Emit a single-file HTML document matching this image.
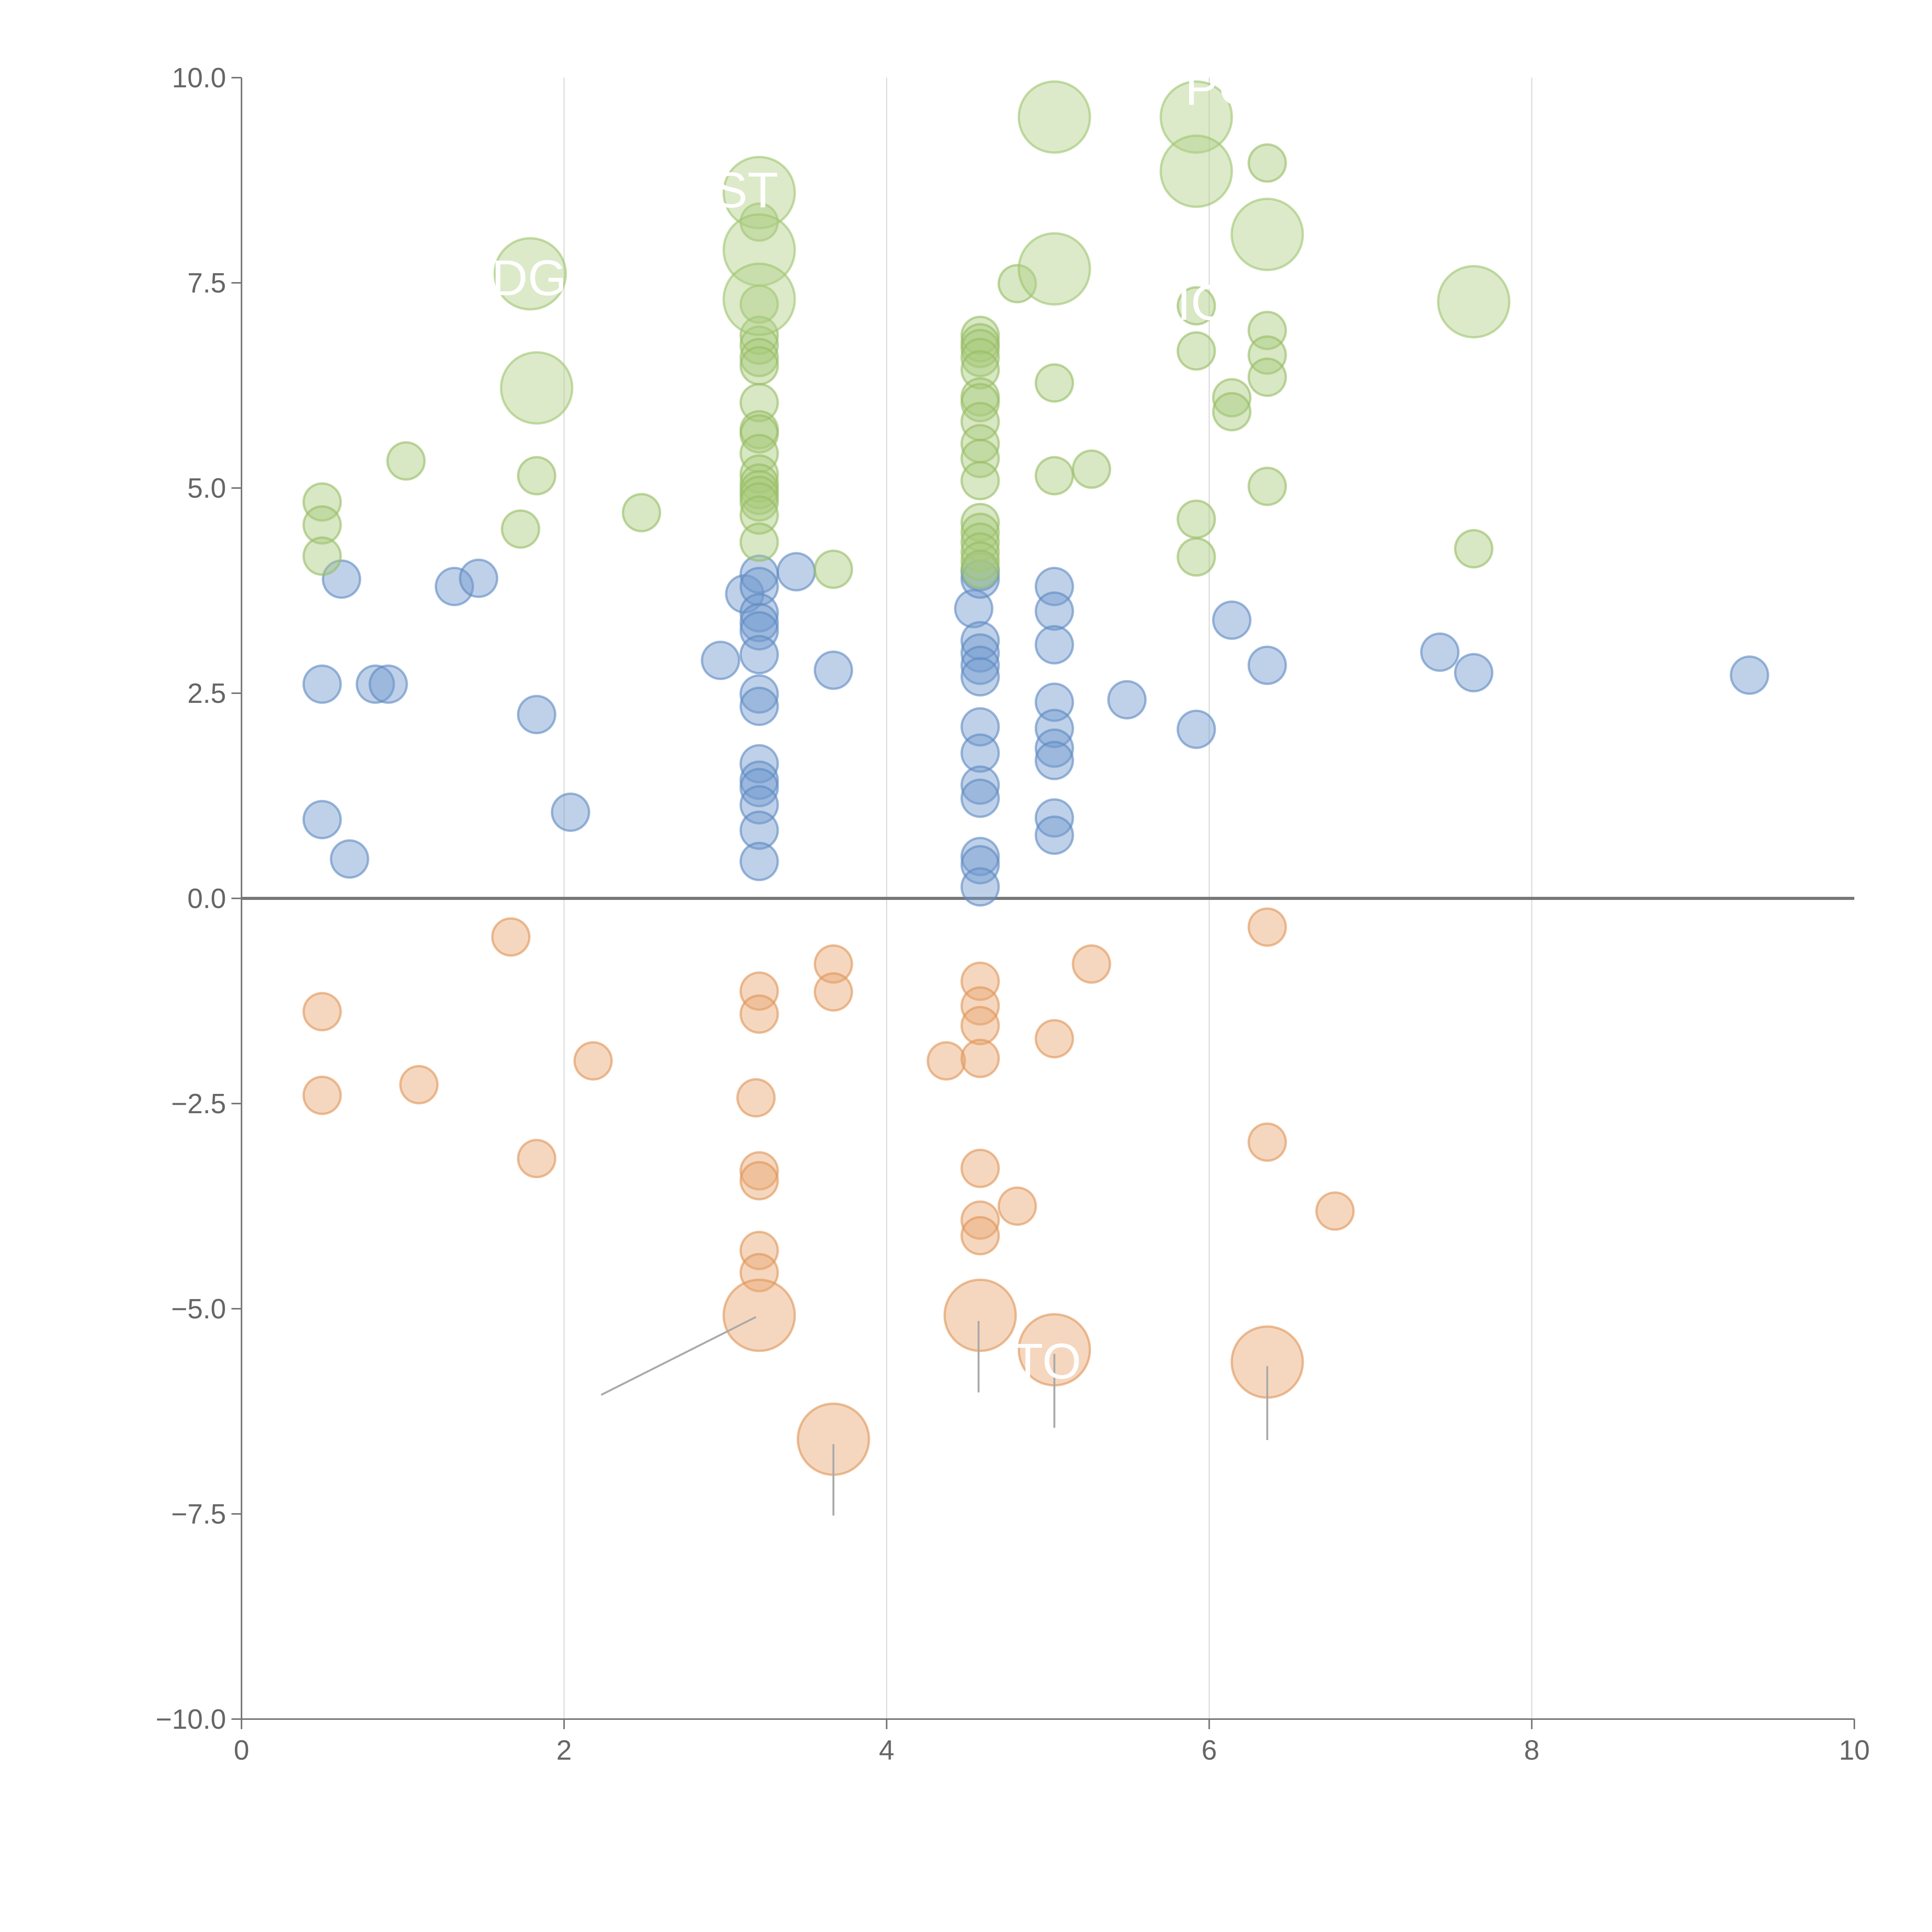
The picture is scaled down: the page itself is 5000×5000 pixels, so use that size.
<!DOCTYPE html>
<html><head><meta charset="utf-8"><style>
html,body{margin:0;padding:0;background:#fff;width:5000px;height:5000px;overflow:hidden}
svg{display:block}
text{font-family:"Liberation Sans",sans-serif}
</style></head><body>
<svg id="chart" width="5000" height="5000" viewBox="0 0 5000 5000" xmlns="http://www.w3.org/2000/svg">
<g id="grid"></g>
<g id="axes"></g>
<g id="marks"></g>
<g id="labels"></g>
</svg>
<script>
const xTicks=[0,2,4,6,8,10];
const yTicks=[10,7.5,5,2.5,0,-2.5,-5,-7.5,-10];
const yTickLabels=["10.0","7.5","5.0","2.5","0.0","\u22122.5","\u22125.0","\u22127.5","\u221210.0"];
const blueX=[0.5,0.62,1.32,1.47,0.83,0.91,1.83,0.5,0.67,2.04,2.97,3.12,3.21,3.21,3.21,3.21,3.21,3.21,3.21,3.21,3.21,3.21,3.21,3.21,3.21,3.21,3.44,3.67,4.54,4.58,4.58,4.58,4.58,4.58,4.58,4.58,4.58,4.58,4.58,4.58,4.58,4.58,5.04,5.04,5.04,5.04,5.04,5.04,5.04,5.04,5.04,5.49,5.92,6.14,6.36,7.43,7.64,9.35];
const blueY=[2.61,3.89,3.80,3.90,2.61,2.61,2.24,0.96,0.48,1.05,2.90,3.71,3.95,3.80,3.48,3.36,3.26,2.97,2.49,2.34,1.64,1.44,1.35,1.14,0.83,0.45,3.98,2.78,3.53,3.98,3.89,3.14,2.99,2.84,2.70,2.09,1.77,1.38,1.22,0.51,0.41,0.14,3.80,3.50,3.09,2.39,2.07,1.83,1.68,0.98,0.77,2.42,2.06,3.39,2.84,3.00,2.75,2.72];
const orangeX=[0.5,0.5,1.10,1.67,1.83,2.18,3.21,3.21,3.19,3.21,3.21,3.21,3.21,3.67,3.67,4.37,4.58,4.58,4.58,4.58,4.58,4.58,4.58,4.81,5.04,5.27,6.36,6.36,6.78];
const orangeY=[-1.38,-2.40,-2.27,-0.47,-3.17,-1.98,-1.13,-1.41,-2.43,-3.32,-3.44,-4.29,-4.56,-0.80,-1.14,-1.98,-1.01,-1.31,-1.55,-1.95,-3.29,-3.92,-4.11,-3.75,-1.71,-0.80,-0.35,-2.97,-3.81];
const orangeBigX=[3.21,4.58,5.04,3.67,6.36];
const orangeBigY=[-5.08,-5.08,-5.50,-6.59,-5.65];
const greenX=[0.5,0.5,0.5,1.02,1.73,1.83,2.48,3.21,3.21,3.21,3.21,3.21,3.21,3.21,3.21,3.21,3.21,3.21,3.21,3.21,3.21,3.21,3.21,3.21,3.67,4.58,4.58,4.58,4.58,4.58,4.58,4.58,4.58,4.58,4.58,4.58,4.58,4.58,4.58,4.58,4.58,4.58,4.81,5.04,5.04,5.27,5.92,5.92,5.92,5.92,6.14,6.14,6.36,6.36,6.36,6.36,6.36,7.64];
const greenY=[4.83,4.55,4.17,5.33,4.50,5.15,4.70,8.24,7.24,6.86,6.74,6.59,6.49,6.04,5.71,5.66,5.42,5.17,5.06,4.98,4.91,4.83,4.67,4.34,4.01,6.86,6.77,6.70,6.59,6.44,6.11,6.04,5.81,5.54,5.36,5.09,4.58,4.46,4.34,4.22,4.11,4.01,7.49,6.28,5.15,5.23,6.67,4.62,4.16,7.22,6.10,5.93,8.96,6.92,6.62,6.35,5.02,4.26];
const greenBigX=[1.79,1.83,3.21,3.21,3.21,5.04,5.04,5.92,5.92,6.36,7.64];
const greenBigY=[7.61,6.22,8.60,7.90,7.30,9.52,7.67,9.52,8.86,8.09,7.27];
const leaderX1=[3.19,4.57,5.04,3.67,6.36];
const leaderY1=[-5.10,-5.15,-5.55,-6.65,-5.70];
const leaderX2=[2.23,4.57,5.04,3.67,6.36];
const leaderY2=[-6.05,-6.02,-6.45,-7.52,-6.60];

const X0=625,X1=4799,YT=201,YB=4449;
const sx=v=>X0+(v-0)/(10-0)*(X1-X0);
const sy=v=>YB-(v+10)/20*(YB-YT);
const NS="http://www.w3.org/2000/svg";
function mk(tag,parent,attrs){const e=document.createElementNS(NS,tag);for(const k in attrs)e.setAttribute(k,attrs[k]);parent.appendChild(e);return e;}
const grid=document.getElementById('grid'),axes=document.getElementById('axes'),marks=document.getElementById('marks'),labels=document.getElementById('labels');

xTicks.forEach(t=>{if(t===0||t===10)return;
 const l=mk('line',grid,{x1:sx(t),x2:sx(t),y1:YT,y2:YB,stroke:'#dcdcdc','stroke-width':3});
 
 });

const ya=mk('line',axes,{x1:X0,x2:X0,y1:YT,y2:YB,stroke:'#777','stroke-width':4});


const xa=mk('line',axes,{x1:X0,x2:X1,y1:YB,y2:YB,stroke:'#777','stroke-width':4});


const zl=mk('line',axes,{x1:X0,x2:X1,y1:sy(0),y2:sy(0),stroke:'#777','stroke-width':8});



yTicks.forEach((t,i)=>{
 const tk=mk('line',axes,{x1:X0-26,x2:X0,y1:sy(t),y2:sy(t),stroke:'#777','stroke-width':4});
 
 
 const tx=mk('text',axes,{x:X0-40,y:sy(t)+25,'text-anchor':'end','font-size':72,fill:'#666'});
 tx.textContent=yTickLabels[i];
 
 });
xTicks.forEach(t=>{
 const tk=mk('line',axes,{x1:sx(t),x2:sx(t),y1:YB,y2:YB+26,stroke:'#777','stroke-width':4});
 
 
 const tx=mk('text',axes,{x:sx(t),y:YB+105,'text-anchor':'middle','font-size':72,fill:'#666'});
 tx.textContent=String(t);
 
 });

function bubbles(xs,ys,r,fill,stroke,name){
 xs.forEach((x,i)=>{
  const c=mk('circle',marks,{cx:sx(x),cy:sy(ys[i]),r:r,fill:fill,'fill-opacity':0.45,stroke:stroke,'stroke-opacity':0.6,'stroke-width':6});
  
  });}
bubbles(blueX,blueY,48,'#7099cf','#5e88c2','blue-point');
bubbles(greenX,greenY,48,'#a9c97c','#96bd62','green-point');
bubbles(orangeX,orangeY,48,'#e9a670','#e09456','orange-point');
bubbles(greenBigX,greenBigY,92,'#b2d08a','#9fc46e','green-large-point');
bubbles(orangeBigX,orangeBigY,92,'#e9a670','#e09456','orange-large-point');

leaderX1.forEach((x,i)=>{
 const l=mk('line',labels,{x1:sx(x),y1:sy(leaderY1[i]),x2:sx(leaderX2[i]),y2:sy(leaderY2[i]),stroke:'#aaa','stroke-width':5});
 
 });

const txtLabels=[["DG",1.55,7.35],["ST",2.93,8.42],["PO",5.85,9.67],["IO",5.80,7.05],["TO",4.78,-5.85]];
txtLabels.forEach(a=>{
 const t=mk('text',labels,{x:sx(a[1]),y:sy(a[2]),'font-size':130,fill:'#fff'});
 t.textContent=a[0];
 
 });
</script>
</body></html>
